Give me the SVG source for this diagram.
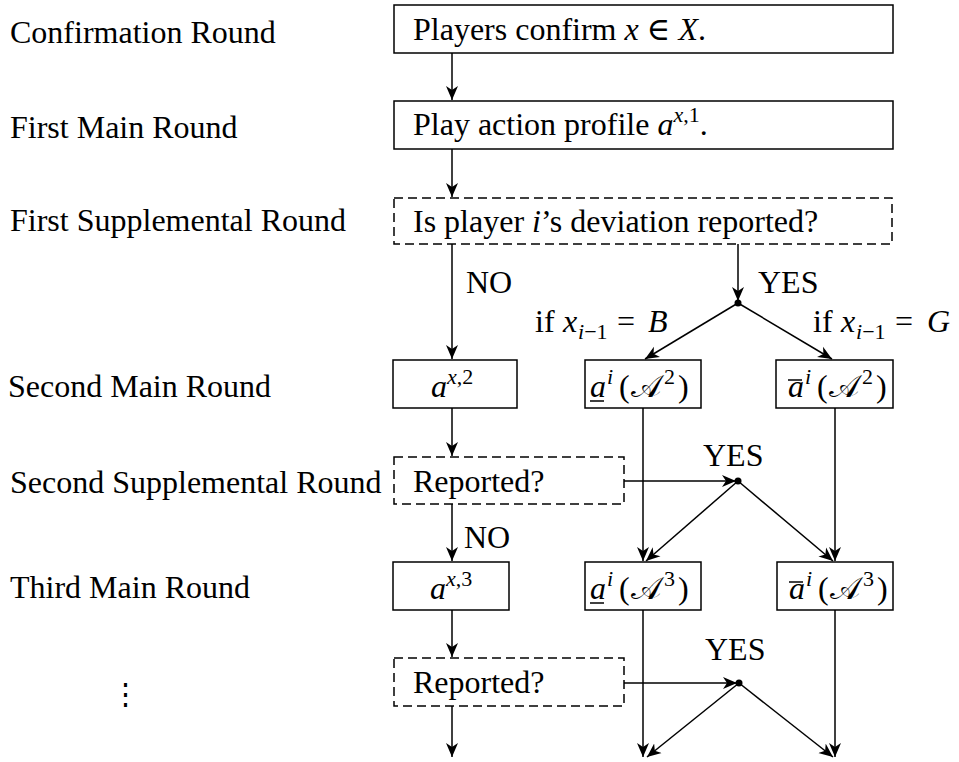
<svg xmlns="http://www.w3.org/2000/svg" width="959" height="762" viewBox="0 0 959 762">
<style>
text{font-family:"Liberation Serif","DejaVu Serif",serif;font-size:32px;fill:#000}
.it{font-style:italic}
.sm{font-size:22px}
.box{fill:none;stroke:#000;stroke-width:1.5}
.dash{fill:none;stroke:#000;stroke-width:1.5;stroke-dasharray:9,5}
.ln{fill:none;stroke:#000;stroke-width:1.5}
.acc{stroke:#000;stroke-width:1.5}
</style>
<defs>
<marker id="ah" markerUnits="userSpaceOnUse" markerWidth="16" markerHeight="13" refX="14" refY="6.5" orient="auto">
<path d="M0,0.5 L14,6.5 L0,12.5 L4,6.5 z" fill="#000"/>
</marker>
</defs>
<g id="labels">
<text x="10" y="43">Confirmation Round</text>
<text x="10" y="138">First Main Round</text>
<text x="10" y="231">First Supplemental Round</text>
<text x="8" y="397">Second Main Round</text>
<text x="10" y="493">Second Supplemental Round</text>
<text x="10" y="598">Third Main Round</text>
<text x="125" y="704" text-anchor="middle" style="font-family:'DejaVu Serif',serif;font-size:29px">⋮</text>
</g>
<g id="n-confirm">
<rect class="box" x="394" y="5" width="499" height="48"/>
<text x="413" y="40">Players confirm <tspan class="it">x</tspan> ∈ <tspan class="it">X</tspan>.</text>
</g>
<g id="n-main1">
<rect class="box" x="394" y="101" width="499" height="48"/>
<text x="413" y="135">Play action profile <tspan class="it">a</tspan><tspan class="sm" dy="-13"><tspan class="it">x</tspan>,1</tspan><tspan dy="13">.</tspan></text>
</g>
<g id="n-supp1">
<rect class="dash" x="394" y="198" width="498" height="46"/>
<text x="413" y="232">Is player <tspan class="it">i</tspan>’s deviation reported?</text>
</g>
<g id="n-main2-no">
<rect class="box" x="393" y="360" width="124" height="48"/>
<text x="431" y="397"><tspan class="it">a</tspan><tspan class="sm" dy="-13"><tspan class="it">x</tspan>,2</tspan></text>
</g>
<g id="n-main2-b">
<rect class="box" x="585" y="360" width="116" height="48"/>
<text y="397"><tspan class="it" x="590">a</tspan><tspan class="sm it" x="607" dy="-13">i</tspan><tspan x="619" dy="13">(</tspan><tspan x="631">𝒜</tspan><tspan class="sm" x="664" dy="-13">2</tspan><tspan x="678" dy="13">)</tspan></text>
<line class="acc" x1="590" y1="401" x2="604" y2="401"/>
</g>
<g id="n-main2-g">
<rect class="box" x="776" y="360" width="117" height="48"/>
<text y="397"><tspan class="it" x="788">a</tspan><tspan class="sm it" x="805" dy="-13">i</tspan><tspan x="817" dy="13">(</tspan><tspan x="829">𝒜</tspan><tspan class="sm" x="862" dy="-13">2</tspan><tspan x="876" dy="13">)</tspan></text>
<line class="acc" x1="788" y1="380" x2="802" y2="380"/>
</g>
<g id="n-supp2">
<rect class="dash" x="394" y="457" width="230" height="47"/>
<text x="413" y="492">Reported?</text>
</g>
<g id="n-main3-no">
<rect class="box" x="393" y="562" width="116" height="48"/>
<text x="430" y="599"><tspan class="it">a</tspan><tspan class="sm" dy="-13"><tspan class="it">x</tspan>,3</tspan></text>
</g>
<g id="n-main3-b">
<rect class="box" x="585" y="562" width="116" height="48"/>
<text y="599"><tspan class="it" x="590">a</tspan><tspan class="sm it" x="607" dy="-13">i</tspan><tspan x="619" dy="13">(</tspan><tspan x="631">𝒜</tspan><tspan class="sm" x="664" dy="-13">3</tspan><tspan x="678" dy="13">)</tspan></text>
<line class="acc" x1="590" y1="603" x2="604" y2="603"/>
</g>
<g id="n-main3-g">
<rect class="box" x="777" y="562" width="116" height="48"/>
<text y="599"><tspan class="it" x="789">a</tspan><tspan class="sm it" x="806" dy="-13">i</tspan><tspan x="818" dy="13">(</tspan><tspan x="830">𝒜</tspan><tspan class="sm" x="863" dy="-13">3</tspan><tspan x="877" dy="13">)</tspan></text>
<line class="acc" x1="789" y1="582" x2="803" y2="582"/>
</g>
<g id="n-supp3">
<rect class="dash" x="394" y="658" width="230" height="48"/>
<text x="413" y="693">Reported?</text>
</g>
<g id="connectors">
<line class="ln" x1="452" y1="53" x2="452" y2="100" marker-end="url(#ah)"/>
<line class="ln" x1="452" y1="149" x2="452" y2="197" marker-end="url(#ah)"/>
<line class="ln" x1="452" y1="244" x2="452" y2="359" marker-end="url(#ah)"/>
<line class="ln" x1="738" y1="244" x2="738" y2="301" marker-end="url(#ah)"/>
<circle cx="738" cy="303" r="3.5" fill="#000"/>
<line class="ln" x1="738" y1="303" x2="645" y2="359" marker-end="url(#ah)"/>
<line class="ln" x1="738" y1="303" x2="832" y2="359" marker-end="url(#ah)"/>
<line class="ln" x1="452" y1="408" x2="452" y2="456" marker-end="url(#ah)"/>
<line class="ln" x1="624" y1="481" x2="736" y2="481" marker-end="url(#ah)"/>
<circle cx="738" cy="481" r="3.5" fill="#000"/>
<line class="ln" x1="643" y1="408" x2="643" y2="561" marker-end="url(#ah)"/>
<line class="ln" x1="835" y1="408" x2="835" y2="561" marker-end="url(#ah)"/>
<line class="ln" x1="738" y1="481" x2="646" y2="561" marker-end="url(#ah)"/>
<line class="ln" x1="738" y1="481" x2="833" y2="561" marker-end="url(#ah)"/>
<line class="ln" x1="452" y1="504" x2="452" y2="561" marker-end="url(#ah)"/>
<line class="ln" x1="452" y1="610" x2="452" y2="657" marker-end="url(#ah)"/>
<line class="ln" x1="643" y1="610" x2="643" y2="757" marker-end="url(#ah)"/>
<line class="ln" x1="835" y1="610" x2="835" y2="757" marker-end="url(#ah)"/>
<line class="ln" x1="624" y1="683" x2="737" y2="683" marker-end="url(#ah)"/>
<circle cx="739" cy="683" r="3.5" fill="#000"/>
<line class="ln" x1="739" y1="683" x2="647" y2="757" marker-end="url(#ah)"/>
<line class="ln" x1="739" y1="683" x2="833" y2="757" marker-end="url(#ah)"/>
<line class="ln" x1="452" y1="706" x2="452" y2="757" marker-end="url(#ah)"/>
</g>
<g id="edge-labels">
<text x="466" y="293">NO</text>
<text x="758" y="293">YES</text>
<text y="332"><tspan x="535">if</tspan><tspan class="it" x="563">x</tspan><tspan class="sm" x="578" dy="7"><tspan class="it">i</tspan>−1</tspan><tspan x="617" dy="-7">=</tspan><tspan class="it" x="648">B</tspan></text>
<text y="332"><tspan x="813">if</tspan><tspan class="it" x="841">x</tspan><tspan class="sm" x="856" dy="7"><tspan class="it">i</tspan>−1</tspan><tspan x="895" dy="-7">=</tspan><tspan class="it" x="927">G</tspan></text>
<text x="703" y="466">YES</text>
<text x="464" y="548">NO</text>
<text x="705" y="660">YES</text>
</g>
</svg>
